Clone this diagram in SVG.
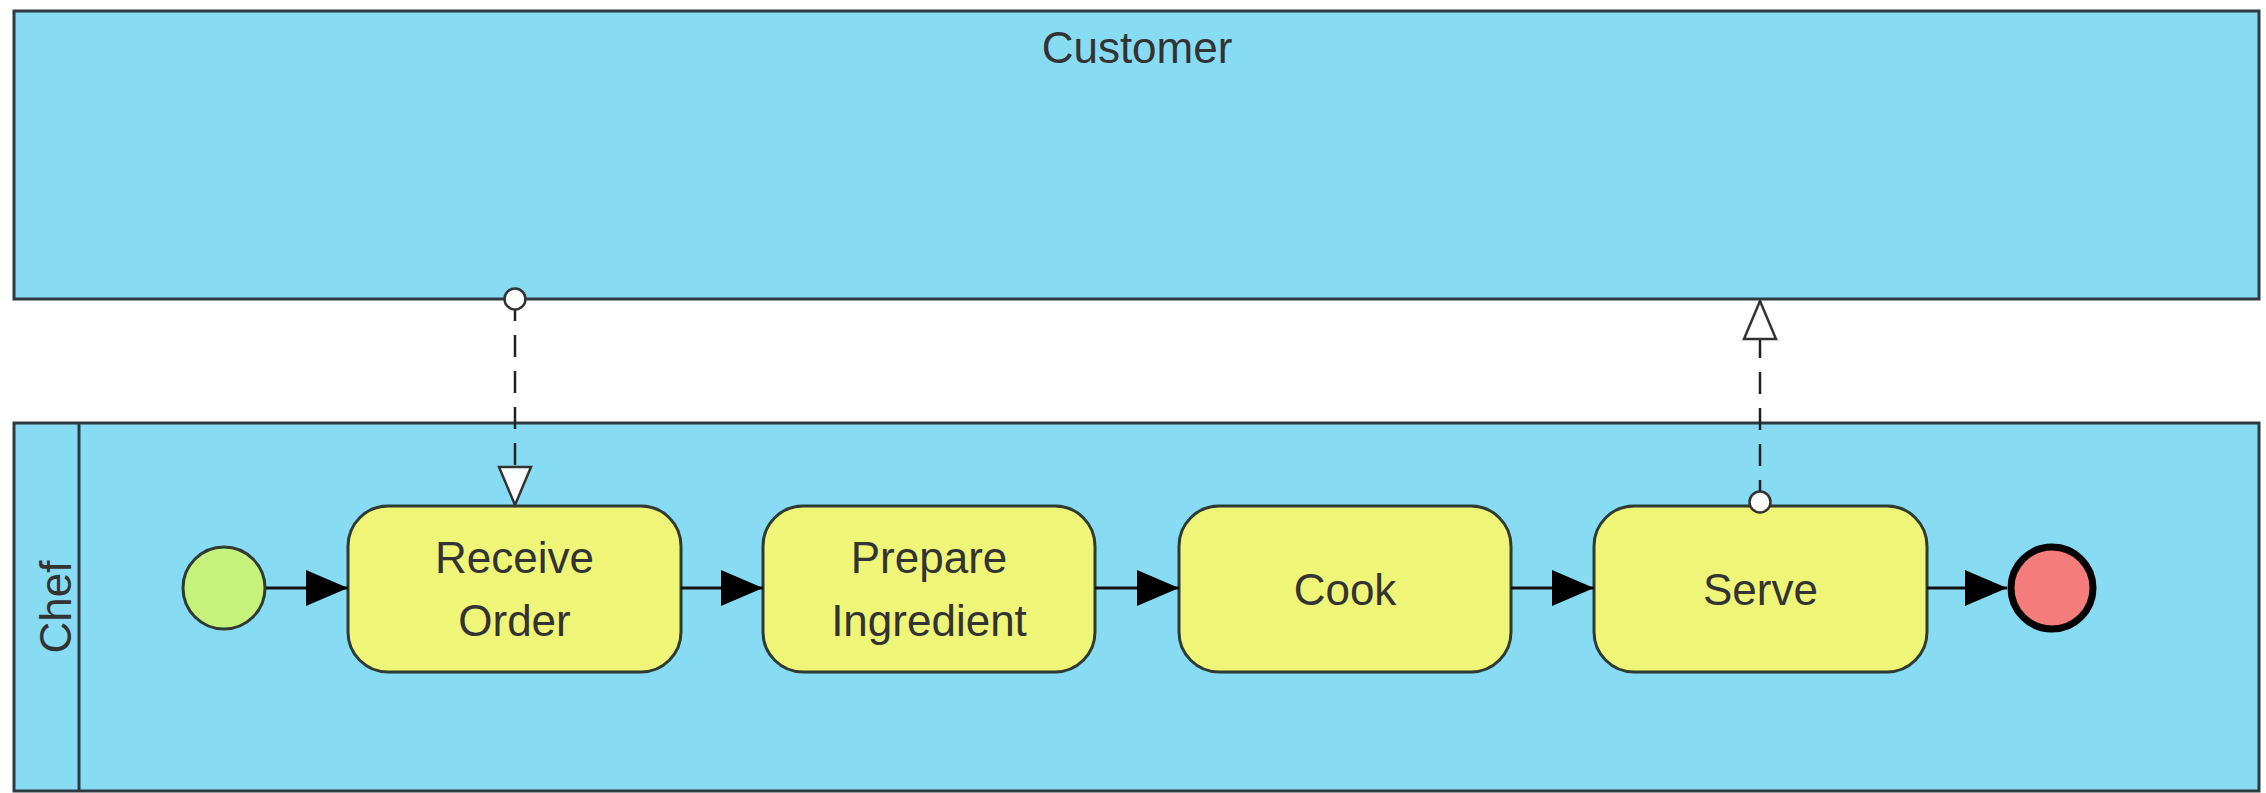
<svg xmlns="http://www.w3.org/2000/svg" width="2266" height="793" viewBox="0 0 2266 793">
<style>
.pool{fill:#87dcf4;stroke:#2f3a40;stroke-width:3}
.task{fill:#eff577;stroke:#2f3a33;stroke-width:3}
.lbl{font-family:"Liberation Sans",Arial,sans-serif;font-size:44px;fill:#333;text-anchor:middle}
.seq{stroke:#111;stroke-width:3;fill:none}
.msg{stroke:#222;stroke-width:2.5;fill:none;stroke-dasharray:22 14}
</style>
<defs>
<marker id="arrowFill" markerUnits="userSpaceOnUse" markerWidth="44" markerHeight="38" refX="42" refY="18" orient="auto">
<path d="M0,0 L42,18 L0,36 z" fill="#000"/>
</marker>
<marker id="arrowOpen" markerUnits="userSpaceOnUse" markerWidth="44" markerHeight="40" refX="40" refY="18" orient="auto">
<path d="M2,2 L40,18 L2,34 z" fill="#fff" stroke="#333" stroke-width="2.5"/>
</marker>
<marker id="msgStart" markerUnits="userSpaceOnUse" markerWidth="28" markerHeight="28" refX="14" refY="14" orient="auto">
<circle cx="14" cy="14" r="10.5" fill="#fff" stroke="#333" stroke-width="2.5"/>
</marker>
</defs>
<g id="pool-customer">
<rect class="pool" x="14" y="11" width="2245" height="288"/>
<text class="lbl" x="1137" y="63">Customer</text>
</g>
<g id="pool-chef">
<rect class="pool" x="14" y="423" width="2245" height="368"/>
<line x1="79" y1="423" x2="79" y2="791" stroke="#2f3a40" stroke-width="3"/>
<text class="lbl" transform="translate(71,607) rotate(-90)" x="0" y="0">Chef</text>
</g>
<g id="start">
<circle cx="224" cy="588" r="41" fill="#c4f27a" stroke="#2f3a33" stroke-width="3"/>
</g>
<g id="task-receive-order">
<rect class="task" x="348" y="506" width="333" height="166" rx="40"/>
<text class="lbl" x="514.5" y="573">Receive</text>
<text class="lbl" x="514.5" y="636">Order</text>
</g>
<g id="task-prepare-ingredient">
<rect class="task" x="763" y="506" width="332" height="166" rx="40"/>
<text class="lbl" x="929" y="573">Prepare</text>
<text class="lbl" x="929" y="636">Ingredient</text>
</g>
<g id="task-cook">
<rect class="task" x="1179" y="506" width="332" height="166" rx="40"/>
<text class="lbl" x="1345" y="605">Cook</text>
</g>
<g id="task-serve">
<rect class="task" x="1594" y="506" width="333" height="166" rx="40"/>
<text class="lbl" x="1760.5" y="605">Serve</text>
</g>
<g id="end">
<circle cx="2052" cy="588" r="41" fill="#f47c7a" stroke="#000" stroke-width="7"/>
</g>
<g id="connectors">
<line class="seq" x1="266" y1="588" x2="348" y2="588" marker-end="url(#arrowFill)"/>
<line class="seq" x1="681" y1="588" x2="763" y2="588" marker-end="url(#arrowFill)"/>
<line class="seq" x1="1095" y1="588" x2="1179" y2="588" marker-end="url(#arrowFill)"/>
<line class="seq" x1="1511" y1="588" x2="1594" y2="588" marker-end="url(#arrowFill)"/>
<line class="seq" x1="1927" y1="588" x2="2007" y2="588" marker-end="url(#arrowFill)"/>
<line class="msg" x1="515" y1="299" x2="515" y2="505" marker-start="url(#msgStart)" marker-end="url(#arrowOpen)"/>
<line class="msg" x1="1760" y1="502" x2="1760" y2="301" marker-start="url(#msgStart)" marker-end="url(#arrowOpen)"/>
</g>
</svg>
